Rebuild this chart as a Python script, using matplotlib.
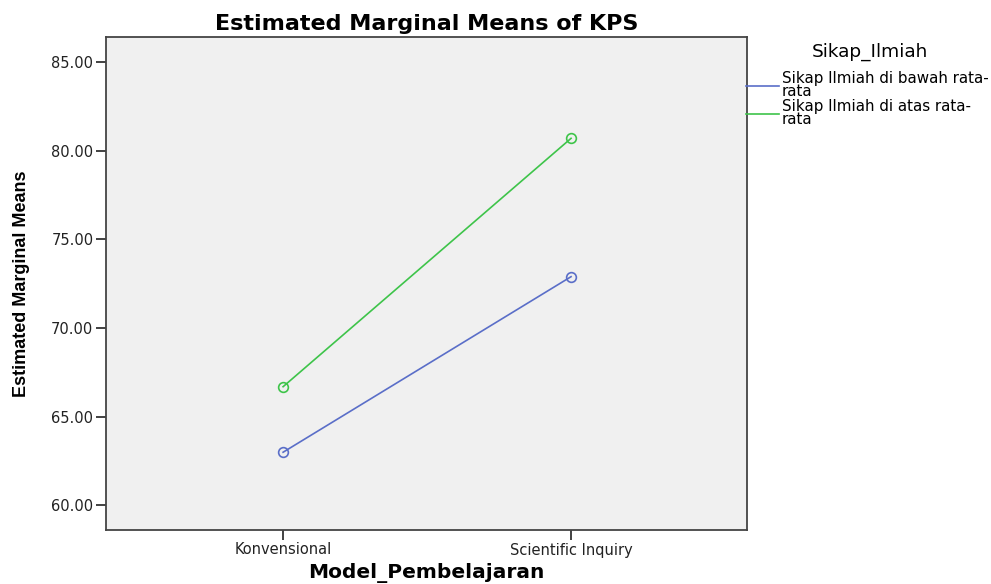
import matplotlib
matplotlib.use("Agg")
import matplotlib.pyplot as plt
from matplotlib.lines import Line2D

# data
models = ["Konvensional", "Scientific Inquiry"]
di_bawah = [62.99, 72.90]
di_atas = [66.69, 80.71]
series_names = ["Sikap Ilmiah di bawah rata-\nrata", "Sikap Ilmiah di atas rata-\nrata"]
yticks = [60, 65, 70, 75, 80, 85]

plt.rcParams["font.family"] = ["DejaVu Sans"]

blue = "#5a6ec8"
green = "#3ec44a"

fig = plt.figure(figsize=(9.91, 5.84), dpi=100)
ax = fig.add_axes([106 / 991, 1 - 530 / 584, 641 / 991, 493 / 584])
ax.set_facecolor("#f0f0f0")

x = list(range(len(models)))
ax.plot(x, di_bawah, color=blue, lw=1.2, marker="o", mfc="none", mec=blue, ms=7, mew=1.2)
ax.plot(x, di_atas, color=green, lw=1.2, marker="o", mfc="none", mec=green, ms=7, mew=1.2)

ax.set_xlim(-0.615, 1.611)
ax.set_ylim(58.6, 86.43)
ax.set_xticks(x)
ax.set_xticklabels(models, fontsize=10.5, color="#222222")
ax.set_yticks(yticks)
ax.set_yticklabels([f"{v:.2f}" for v in yticks], fontsize=10.5, color="#222222")
ax.tick_params(direction="out", length=7, width=1.3, color="#333333", pad=2)

for s in ax.spines.values():
    s.set_color("#444444")
    s.set_linewidth(1.3)

ax.set_title("Estimated Marginal Means of KPS", fontsize=16, fontweight="bold", pad=5)
ax.set_xlabel("Model_Pembelajaran", fontsize=14.5, fontweight="bold", va="center")
ax.xaxis.set_label_coords(0.5, (530 - 573) / 493)
ax.set_ylabel("Estimated Marginal Means", family=["Liberation Sans", "DejaVu Sans"],
              fontsize=13, fontweight="bold", va="center")
ax.yaxis.set_label_coords((22 - 106) / 641, 0.5)

fig.text(870 / 991, 1 - 52 / 584, "Sikap_Ilmiah", fontsize=13.3, ha="center", va="center")
handles = [Line2D([], [], color=blue, lw=1.2), Line2D([], [], color=green, lw=1.2)]
leg = fig.legend(handles, series_names, loc="upper left",
                 bbox_to_anchor=(746 / 991, 1 - 71 / 584), frameon=False,
                 fontsize=10.9, handlelength=2.2, handletextpad=0.15,
                 labelspacing=0.05, borderaxespad=0, borderpad=0)
for t in leg.get_texts():
    t.set_linespacing(0.8)

fig.savefig("out.png", dpi=100)
